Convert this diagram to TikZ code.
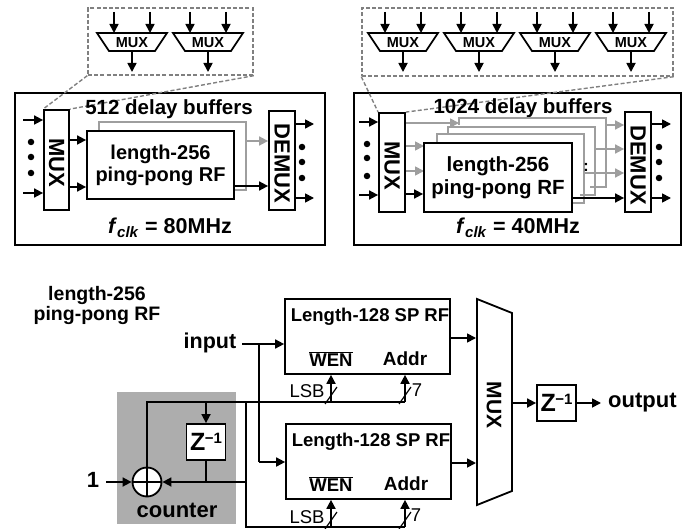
\documentclass[tikz,border=0pt]{standalone}
\usepackage{fontspec}
\setmainfont{Liberation Sans}
\usetikzlibrary{arrows.meta}
\definecolor{gl}{gray}{0.62}
\definecolor{gd}{gray}{0.5}
\definecolor{cnt}{gray}{0.68}
\newcommand{\zinv}{{\fontsize{25}{25}\bfseries Z}\kern-0.5pt\raisebox{7.5pt}{\fontsize{15}{15}\bfseries\symbol{"2212}1}}
\newcommand{\fsz}[1]{\fontsize{#1}{#1}\bfseries}
\tikzset{
 x=1pt,y=-1pt,
 line/.style={line width=1.7pt,draw=black,line join=miter},
 arr/.style={line width=1.7pt,-{Triangle[length=9pt,width=9pt]}},
 garr/.style={line width=1.7pt,draw=gl,-{Triangle[length=9pt,width=9pt]}},
 gbox/.style={line width=1.7pt,draw=gl},
 box/.style={draw=black,line width=1.8pt,fill=white,inner sep=0pt,font=\bfseries},
 dashln/.style={draw=gd,line width=1.4pt,dash pattern=on 4pt off 2.2pt},
 dotn/.style={circle,fill=black,inner sep=0pt,minimum size=6.5pt},
 txt/.style={font=\bfseries,inner sep=0pt,align=center},
 muxt/.style={draw=black,line width=1.7pt,fill=white},
 sm/.style={inner sep=0pt,font=\fsz{14.5}},
}
\newcommand{\muxcell}[2]{% #1 name, #2 left top x
 \draw[muxt] (#2,33) -- (#2+70,33) -- (#2+58,51) -- (#2+12,51) -- cycle;
 \node[sm] (#1) at (#2+35,42.5) {MUX};
 \coordinate (#1i) at (#2+17,12);\coordinate (#1ie) at (#2+17,33);
 \coordinate (#1j) at (#2+53,12);\coordinate (#1je) at (#2+53,33);
 \coordinate (#1o) at (#2+35,51);\coordinate (#1oe) at (#2+35,72);
 \draw[arr] (#1i) -- (#1ie);
 \draw[arr] (#1j) -- (#1je);
 \draw[arr] (#1o) -- (#1oe);
}
\begin{document}
\begin{tikzpicture}
\useasboundingbox (0,0) rectangle (692,529);
% --- left top
\node[draw=black,line width=1.9pt,minimum width=310pt,minimum height=152pt,inner sep=0pt] (LB) at (170,169) {};
\node[dashln,minimum width=165pt,minimum height=67pt,inner sep=0pt] (LD) at (170.5,41.5) {};
\muxcell{la}{97}
\muxcell{lb}{173}
\node[box,minimum width=25pt,minimum height=100pt] (LM) at (56.5,160) {\rotatebox{-90}{\fsz{22} MUX}};
\draw[dashln] (LD.south west) -- (LM.north west);
\draw[dashln] (LD.south east) -- (LM.north east);
\node[txt,font=\fsz{20.5}] (L512) at (169,109) {512 delay buffers};
\node[box,minimum width=26pt,minimum height=99pt] (LX) at (282,160.5) {\rotatebox{-90}{\fsz{22} DEMUX}};
\draw[gbox] (99,131) -- (99,122) -- (246,122) -- (246,190) -- (234,190);
\draw[garr] (246,141) -- (LX.west |- 0,141);
\node[box,minimum width=147pt,minimum height=68pt,align=center,font=\fontsize{20}{22}\bfseries] (LR) at (160.5,165) {length-256\\ping-pong RF};
\draw[arr] (23,120) -- (LM.west |- 0,120);
\draw[arr] (23,193) -- (LM.west |- 0,193);
\draw[arr] (LM.east |- 0,140) -- (LR.west |- 0,140);
\draw[arr] (LM.east |- 0,187) -- (LR.west |- 0,187);
\draw[arr] (LR.east |- 0,186) -- (LX.west |- 0,186);
\draw[arr] (LX.east |- 0,124) -- (314,124);
\draw[arr] (LX.east |- 0,198) -- (314,198);
\foreach \n/\x/\y in {d1/31/142,d2/31/157,d3/31/173,d4/302/147,d5/302/162,d6/302/178}{\node[dotn] (\n) at (\x,\y) {};}
\node[txt,font=\fsz{21.5}] (LF) at (170,228) {\textit{f}\textsubscript{\textit{clk}} = 80MHz};
% --- right top
\node[draw=black,line width=1.9pt,minimum width=327pt,minimum height=152pt,inner sep=0pt] (RB) at (517.5,169) {};
\node[dashln,minimum width=311pt,minimum height=68pt,inner sep=0pt] (RD) at (517.5,42) {};
\muxcell{ra}{368}
\muxcell{rb}{444}
\muxcell{rc}{520}
\muxcell{rd}{596}
\node[box,minimum width=26pt,minimum height=99pt] (RM) at (392,162.5) {\rotatebox{-90}{\fsz{22} MUX}};
\draw[dashln] (RD.south west) -- (RM.north west);
\draw[dashln] (RD.south east) -- (RM.north east);
\node[txt,font=\fsz{20.5}] (R1024) at (523,108) {1024 delay buffers};
\node[box,minimum width=26pt,minimum height=100pt] (RX) at (638,162) {\rotatebox{-90}{\fsz{22} DEMUX}};
\draw[gbox] (459,125) -- (459,118) -- (606,118) -- (606,187) -- (590,187);
\draw[gbox] (448,134) -- (448,127) -- (595,127) -- (595,195) -- (580,195);
\draw[gbox] (437,143) -- (437,134) -- (584,134) -- (584,203) -- (572,203);
\draw[garr] (RM.east |- 0,123) -- (459,123);
\draw[garr] (606,125) -- (RX.west |- 0,125);
\draw[garr] (595,149) -- (RX.west |- 0,149);
\draw[garr] (584,173) -- (RX.west |- 0,173);
\draw[garr] (RM.east |- 0,146) -- (424,146);
\draw[garr] (RM.east |- 0,171) -- (424,171);
\node[box,minimum width=148pt,minimum height=69pt,align=center,font=\fontsize{20.5}{23}\bfseries] (RR) at (498,177.5) {length-256\\ping-pong RF};
\node[txt,font=\fsz{16}] (Rc) at (586,167) {:};
\draw[arr] (359,122) -- (RM.west |- 0,122);
\draw[arr] (359,195) -- (RM.west |- 0,195);
\draw[arr] (RM.east |- 0,194) -- (RR.west |- 0,194);
\draw[arr] (RR.east |- 0,198) -- (RX.west |- 0,198);
\draw[arr] (RX.east |- 0,124) -- (671,124);
\draw[arr] (RX.east |- 0,198) -- (671,198);
\foreach \n/\x/\y in {e1/367/144,e2/367/158,e3/367/176,e4/659/147,e5/659/162,e6/659/178}{\node[dotn] (\n) at (\x,\y) {};}
\node[txt,font=\fsz{21.5}] (RF) at (518,228) {\textit{f}\textsubscript{\textit{clk}} = 40MHz};
% --- bottom
\node[txt,font=\fontsize{19.5}{20}\bfseries] (T) at (97,305.5) {length-256\\ping-pong RF};
\fill[cnt] (117,392) rectangle (236,524);
\node[draw=black,line width=1.7pt,inner sep=0pt,minimum width=165pt,minimum height=75pt] (S1) at (367.5,336.5) {};
\node[draw=black,line width=1.7pt,inner sep=0pt,minimum width=165pt,minimum height=75pt] (S2) at (368.5,461.5) {};
\node[txt,font=\fsz{18.5}] (S1t) at (370,317) {Length-128 SP RF};
\node[txt,font=\fsz{18.5}] (S2t) at (371,442) {Length-128 SP RF};
\node[txt,font=\fsz{18.5}] (W1) at (331,359) {$\overline{\mbox{WEN}}$};
\node[txt,font=\fsz{19}] (A1) at (405,359) {Addr};
\node[txt,font=\fsz{18.5}] (W2) at (331,484) {$\overline{\mbox{WEN}}$};
\node[txt,font=\fsz{19}] (A2) at (406,484) {Addr};
\node[txt,font=\fsz{21.5}] (In) at (210,343) {input};
\coordinate (iS) at (242,344);
\coordinate (iJ) at (259,344);
\coordinate (iK) at (259,462);
\draw[arr] (iS) -- (S1.west |- iS);
\draw[line] (iJ) -- (iK);
\draw[arr] (iK) -- (S2.west |- iK);
\node[txt,font=\fsz{22}] (One) at (93,480) {1};
\node[draw=black,line width=1.8pt,circle,fill=white,inner sep=0pt,minimum size=29pt] (Add) at (147,482) {};
\draw[line] (Add.north) -- (Add.south) (Add.west) -- (Add.east);
\node[draw=black,line width=1.8pt,fill=white,inner sep=0pt,minimum width=39pt,minimum height=36pt] (Z1) at (206,442) {\zinv};
\coordinate (oneS) at (106,482);
\draw[arr] (oneS) -- (Add.west);
\node[txt,font=\fsz{22}] (Cn) at (177,510) {counter};
\draw[line] (Add.north) -- (147,402) -- (405,402);
\draw[arr] (206,402) -- (Z1.north);
\draw[line] (Z1.south) -- (206,482);
\draw[arr] (246,482) -- (Add.east);
\draw[line] (246,402) -- (246,527) -- (405,527);
\draw[arr] (331,402) -- (S1.south -| 331,0);
\draw[arr] (405,402) -- (S1.south -| 405,0);
\draw[arr] (331,527) -- (S2.south -| 331,0);
\draw[arr] (405,527) -- (S2.south -| 405,0);
\foreach \x/\y in {331/402,405/402,331/527,405/527}{\draw[line width=1.2pt] (\x-6,\y+2) -- (\x+6,\y-15);}
\node[inner sep=0pt,font=\fontsize{18.5}{20}\selectfont] (L1) at (307,391) {LSB};
\node[inner sep=0pt,font=\fontsize{18.5}{20}\selectfont] (L2) at (307,517) {LSB};
\node[inner sep=0pt,font=\fontsize{18.5}{20}\selectfont] (N1) at (417,390) {7};
\node[inner sep=0pt,font=\fontsize{18.5}{20}\selectfont] (N2) at (416,515) {7};
\draw[muxt,line width=1.8pt] (477,299) -- (512,313) -- (512,491) -- (477,505) -- cycle;
\node[inner sep=0pt] (MM) at (494,402) {\rotatebox{-90}{\fsz{21} MUX}};
\coordinate (m1) at (476,338);
\coordinate (m2) at (476,463);
\coordinate (m3) at (512,403);
\draw[arr] (S1.east |- m1) -- (m1);
\draw[arr] (S2.east |- m2) -- (m2);
\node[draw=black,line width=1.8pt,fill=white,inner sep=0pt,minimum width=39pt,minimum height=36pt] (Z2) at (556.5,403) {\zinv};
\draw[arr] (m3) -- (Z2.west);
\node[txt,font=\fsz{22},anchor=west] (Out) at (608,403) {output};
\coordinate (Oe) at (601,403);
\draw[arr] (Z2.east) -- (Oe);
\end{tikzpicture}
\end{document}
